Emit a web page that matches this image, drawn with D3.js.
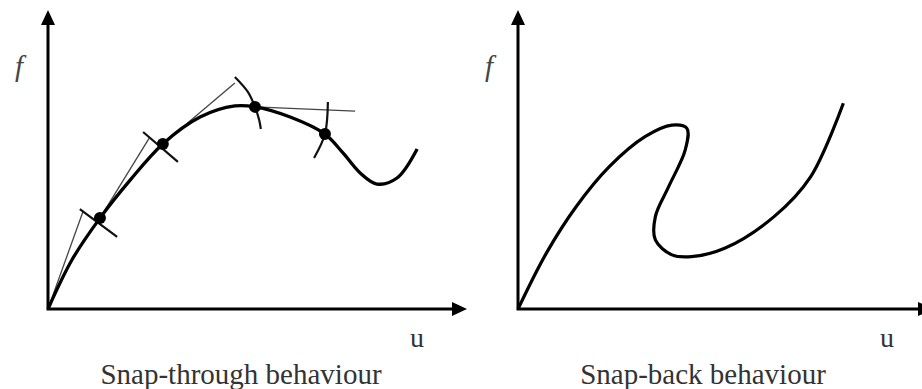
<!DOCTYPE html>
<html>
<head>
<meta charset="utf-8">
<script src="https://cdn.jsdelivr.net/npm/d3@7"></script>
<style>
	body { margin: 0; background: #fff; }
	text { font-family: "Liberation Serif", "DejaVu Serif", serif; }
</style>
</head>
<body>
<div id="chart"></div>
<script>
// Snap-through: equilibrium path (u, f) in axis units (0..10)
var throughU = [0, 0.57, 1.24, 1.96, 2.74, 3.63, 4.46, 4.94, 5.78, 6.61, 7.04, 7.45, 7.85, 8.33, 8.81];
var throughF = [0, 1.64, 3.04, 4.31, 5.52, 6.42, 6.79, 6.76, 6.42, 5.85, 5.22, 4.55, 4.18, 4.38, 5.35];

// converged points on the path
var stepU = [1.24, 2.74, 4.94, 6.61];
var stepF = [3.04, 5.52, 6.76, 5.85];

// predictor (tangent) end points, each starting from previous converged point
var predU = [0.84, 2.43, 4.46, 7.33];
var predF = [3.28, 5.75, 7.56, 6.62];

// corrector marks through each converged point
var corrU = [
	[0.76, 1.65],
	[2.27, 3.10],
	[4.46, 4.77, 4.94, 5.04, 5.08],
	[6.68, 6.61, 6.35]
];
var corrF = [
	[3.34, 2.41],
	[5.92, 4.92],
	[7.76, 7.26, 6.76, 6.32, 6.02],
	[6.92, 5.85, 5.05]
];

// Snap-back: equilibrium path
var backU = [0, 0.68, 1.40, 2.20, 3.07, 3.71, 4.07, 4.03, 3.63, 3.31, 3.31, 3.71, 4.18, 4.98, 6.17, 7.05, 7.84];
var backF = [0, 1.86, 3.42, 4.76, 5.77, 6.15, 6.04, 5.32, 4.09, 3.09, 2.31, 1.81, 1.75, 2.03, 3.09, 4.42, 6.88];

var panels = ["Snap-through behaviour", "Snap-back behaviour"];

var width = 922,
	height = 389;

var svg = d3
	.select("#chart")
	.append("svg")
	.attr("width", width)
	.attr("height", height);

var y = d3.scaleLinear().domain([0, 10]).range([309, 10]);
var xL = d3.scaleLinear().domain([0, 10]).range([48, 467]);
var xR = d3.scaleLinear().domain([0, 10]).range([518, 933]);

function zip(us, fs) {
	return us.map((u, i) => [u, fs[i]]);
}

function drawAxes(x, title, labelX, titleX) {
	var g = svg.append("g");
	var x0 = x(0),
		y0 = y(0),
		x1 = x(10),
		y1 = y(10);
	// axis lines
	g.append("path")
		.attr("d", `M${x0},${y1 + 12}V${y0}H${x1 - 12}`)
		.attr("fill", "none")
		.attr("stroke", "#000")
		.attr("stroke-width", 3);
	// arrow heads
	g.append("path")
		.attr("d", `M${x0},${y1}L${x0 - 7},${y1 + 15}L${x0 + 7},${y1 + 15}Z`)
		.attr("fill", "#000");
	g.append("path")
		.attr("d", `M${x1},${y0}L${x1 - 15},${y0 - 7}L${x1 - 15},${y0 + 7}Z`)
		.attr("fill", "#000");
	// labels
	g.append("text")
		.attr("x", x0 - 33)
		.attr("y", 76)
		.attr("font-style", "italic")
		.attr("font-size", 29)
		.attr("fill", "#444")
		.text("f");
	g.append("text")
		.attr("x", labelX)
		.attr("y", 347)
		.attr("font-size", 28)
		.attr("fill", "#333")
		.text("u");
	g.append("text")
		.attr("x", titleX)
		.attr("y", 384)
		.attr("text-anchor", "middle")
		.attr("font-size", 29)
		.attr("fill", "#333")
		.text(title);
}

drawAxes(xL, panels[0], 410, 241);
drawAxes(xR, panels[1], 880, 703);

var lineL = d3
	.line()
	.curve(d3.curveCatmullRom.alpha(0.5))
	.x((d) => xL(d[0]))
	.y((d) => y(d[1]));

var lineR = d3
	.line()
	.curve(d3.curveCatmullRom.alpha(0.5))
	.x((d) => xR(d[0]))
	.y((d) => y(d[1]));

// predictor lines (thin)
var starts = [[0, 0]].concat(zip(stepU, stepF).slice(0, 3));
svg.append("g")
	.selectAll("line")
	.data(zip(predU, predF))
	.join("line")
	.attr("x1", (d, i) => xL(starts[i][0]))
	.attr("y1", (d, i) => y(starts[i][1]))
	.attr("x2", (d) => xL(d[0]))
	.attr("y2", (d) => y(d[1]))
	.attr("stroke", "#444")
	.attr("stroke-width", 1.3);

// corrector marks
svg.append("g")
	.selectAll("path")
	.data(corrU.map((us, i) => zip(us, corrF[i])))
	.join("path")
	.attr("d", (d) => lineL(d))
	.attr("fill", "none")
	.attr("stroke", "#111")
	.attr("stroke-width", 2.2);

// equilibrium paths
svg.append("path")
	.attr("d", lineL(zip(throughU, throughF)))
	.attr("fill", "none")
	.attr("stroke", "#000")
	.attr("stroke-width", 3.3);

svg.append("path")
	.attr("d", lineR(zip(backU, backF)))
	.attr("fill", "none")
	.attr("stroke", "#000")
	.attr("stroke-width", 3.2);

// converged points
svg.append("g")
	.selectAll("circle")
	.data(zip(stepU, stepF))
	.join("circle")
	.attr("cx", (d) => xL(d[0]))
	.attr("cy", (d) => y(d[1]))
	.attr("r", 6)
	.attr("fill", "#000");
</script>
</body>
</html>
